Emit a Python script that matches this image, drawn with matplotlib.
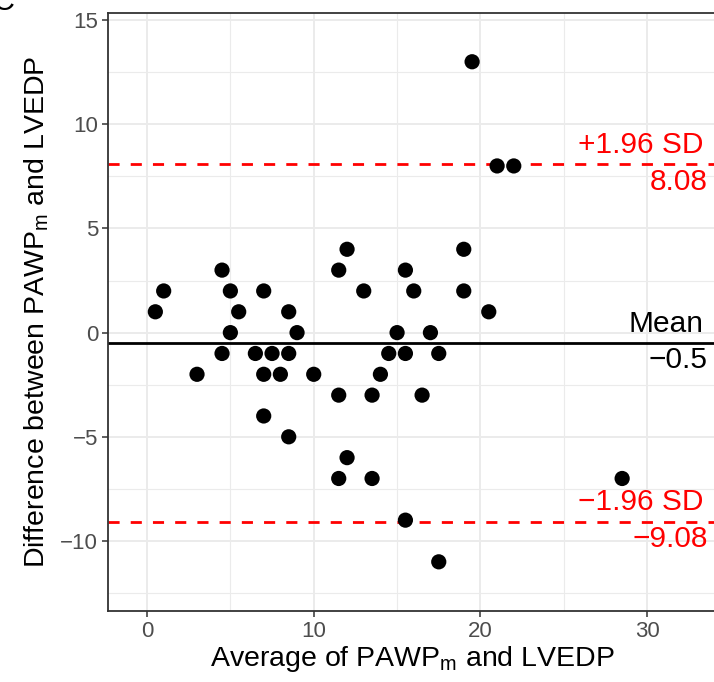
import matplotlib
matplotlib.use("Agg")
import matplotlib.pyplot as plt
from matplotlib.ticker import MultipleLocator

plt.rcParams['font.family'] = ['Liberation Sans', 'DejaVu Sans']
plt.rcParams['mathtext.fontset'] = 'custom'
plt.rcParams['mathtext.rm'] = 'Liberation Sans'
plt.rcParams['mathtext.it'] = 'Liberation Sans:italic'

# Bland-Altman data: average vs difference
avg = [0.5, 1, 3, 4.5, 4.5, 5, 5, 5.5, 6.5, 7, 7, 7, 7.5, 8, 8.5, 8.5, 8.5, 9,
       10, 11.5, 11.5, 11.5, 12, 12, 13, 13.5, 13.5, 14, 14.5, 15, 15.5, 15.5,
       15.5, 16, 16.5, 17, 17.5, 17.5, 19, 19, 19.5, 20.5, 21, 22, 28.5]
diff = [1, 2, -2, 3, -1, 2, 0, 1, -1, 2, -2, -4, -1, -2, 1, -1, -5, 0,
        -2, 3, -3, -7, 4, -6, 2, -3, -7, -2, -1, 0, 3, -1,
        -9, 2, -3, 0, -1, -11, 4, 2, 13, 1, 8, 8, -7]

mean_diff = -0.5
upper = 8.08
lower = -9.08
line_labels = ['+1.96 SD', 'Mean', '\u22121.96 SD']
line_values = [upper, mean_diff, lower]
value_texts = ['8.08', '\u22120.5', '\u22129.08']
line_colors = ['red', 'black', 'red']

fig = plt.figure(figsize=(7.14, 6.82), dpi=100)
ax = fig.add_axes([108 / 714, (682 - 611) / 682, (716 - 108) / 714, (611 - 13) / 682])

ax.set_xlim(-2.34, 34.13)
ax.set_ylim(-13.36, 15.34)

ax.xaxis.set_major_locator(MultipleLocator(10))
ax.xaxis.set_minor_locator(MultipleLocator(5))
ax.yaxis.set_major_locator(MultipleLocator(5))
ax.yaxis.set_minor_locator(MultipleLocator(2.5))
ax.grid(which='major', color='#EBEBEB', linewidth=1.4)
ax.grid(which='minor', color='#EBEBEB', linewidth=0.8)
ax.set_axisbelow(True)
ax.tick_params(which='minor', length=0)
ax.tick_params(which='major', length=4, width=1.1, color='#333333',
               labelcolor='#4D4D4D', labelsize=16, pad=3)
for s in ax.spines.values():
    s.set_color('#333333')
    s.set_linewidth(1.3)

ax.axhline(mean_diff, color='black', linewidth=2.0, zorder=2)
ax.axhline(upper, color='red', linewidth=2.0, linestyle=(0, (4, 4)), zorder=2)
ax.axhline(lower, color='red', linewidth=2.0, linestyle=(0, (4, 4)), zorder=2)

ax.scatter(avg, diff, s=120, color='black', edgecolors='none', zorder=3)

for lab, val, vt, c in zip(line_labels, line_values, value_texts, line_colors):
    ax.text(33.4, val + 0.55, lab, color=c, ha='right', va='baseline', fontsize=21.5)
    ax.text(33.65, val - 1.22, vt, color=c, ha='right', va='baseline', fontsize=21.5)

ax.set_xlabel(r'Average of PAWP$_{\mathrm{m}}$ and LVEDP', fontsize=20.5, labelpad=2)
ax.set_ylabel(r'Difference between PAWP$_{\mathrm{m}}$ and LVEDP', fontsize=20.5, labelpad=7)

fig.text(3 / 714, 1 - 10 / 682, 'C', fontsize=22, ha='center', va='baseline')

fig.savefig('out.png', dpi=100)
